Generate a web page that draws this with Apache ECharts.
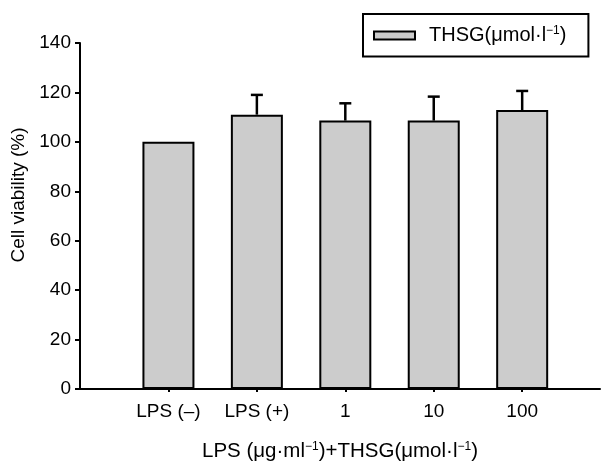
<!DOCTYPE html>
<html>
<head>
<meta charset="utf-8">
<script src="https://cdn.jsdelivr.net/npm/echarts@6/dist/echarts.min.js"></script>
<style>
  html, body { margin: 0; padding: 0; background: #fff; }
  #chart { width: 604px; height: 461px; }
</style>
</head>
<body>
<div id="chart"></div>
<script>
// Cell viability data
const groups = ['LPS (–)', 'LPS (+)', '1', '10', '100'];
const viability = [100, 111, 108.6, 108.6, 112.9];
const errors = [0, 8, 7, 9.7, 7.7];
const yTicks = [0, 20, 40, 60, 80, 100, 120, 140];

const FONT = 'Liberation Sans, Arial, sans-serif';
const sup = { fontSize: 12, fontFamily: FONT, color: '#000', padding: [0, 0, 9, 0] };
const base = { fontSize: 20, fontFamily: FONT, color: '#000' };
const baseBig = { fontSize: 20.5, fontFamily: FONT, color: '#000' };

const chart = echarts.init(document.getElementById('chart'));

chart.setOption({
  backgroundColor: '#fff',
  animation: false,
  grid: { left: 80, right: 4, top: 43, bottom: 72, outerBoundsMode: 'none' },
  legend: {
    left: 363, top: 14,
    data: ['THSG'],
    icon: 'rect',
    itemWidth: 41, itemHeight: 8,
    borderColor: '#000', borderWidth: 2, borderRadius: 0,
    padding: [11, 22, 11, 10],
    formatter: () => '{b|THSG(μmol·l}{s|−1}{b|)}',
    textStyle: { padding: [0, 0, 0, 9], rich: { b: base, s: sup } },
    itemStyle: { color: '#cccccc', borderColor: '#000', borderWidth: 2 }
  },
  xAxis: {
    type: 'value',
    min: -1, max: 4.88,
    interval: 1,
    splitLine: { show: false },
    axisLine: { onZero: false, lineStyle: { color: '#000', width: 2 } },
    axisTick: { customValues: [0, 1, 2, 3, 4], length: 3, lineStyle: { color: '#000', width: 2 } },
    axisLabel: {
      customValues: [0, 1, 2, 3, 4],
      formatter: v => groups[Math.round(v)] || '',
      color: '#000', fontSize: 19, fontFamily: FONT, margin: 13
    },
    name: '{b|LPS (μg·ml}{s|−1}{b|)+THSG(μmol·l}{s|−1}{b|)}',
    nameLocation: 'middle', nameGap: 52,
    nameTextStyle: { rich: { b: baseBig, s: sup } }
  },
  yAxis: {
    type: 'value',
    min: 0, max: 140, interval: 20,
    splitLine: { show: false },
    axisLine: { show: true, onZero: false, lineStyle: { color: '#000', width: 2 } },
    axisTick: { show: true, length: 5, lineStyle: { color: '#000', width: 2 } },
    axisLabel: {
      formatter: v => yTicks.includes(v) ? String(v) : '',
      color: '#000', fontSize: 19, fontFamily: FONT, margin: 9
    },
    name: 'Cell viability (%)',
    nameLocation: 'middle', nameGap: 52,
    nameTextStyle: { color: '#000', fontSize: 19, fontFamily: FONT, padding: [0, 0, 0, 42] }
  },
  series: [
    {
      name: 'THSG',
      type: 'bar',
      barWidth: 52,
      data: viability.map((v, i) => [i, v]),
      itemStyle: { color: '#cccccc', borderColor: '#000', borderWidth: 2 },
      z: 2
    },
    {
      type: 'custom',
      data: viability.map((v, i) => [i, v, errors[i]]),
      z: 1,
      renderItem: (params, api) => {
        const x = api.value(0), m = api.value(1), e = api.value(2);
        if (!e) return null;
        const p0 = api.coord([x, m]);
        const p1 = api.coord([x, m + e]);
        const half = 6;
        const style = { stroke: '#000', lineWidth: 2.5 };
        return {
          type: 'group',
          children: [
            { type: 'line', shape: { x1: p0[0], y1: p0[1], x2: p1[0], y2: p1[1] }, style },
            { type: 'line', shape: { x1: p1[0] - half, y1: p1[1], x2: p1[0] + half, y2: p1[1] }, style }
          ]
        };
      }
    }
  ]
});
</script>
</body>
</html>
